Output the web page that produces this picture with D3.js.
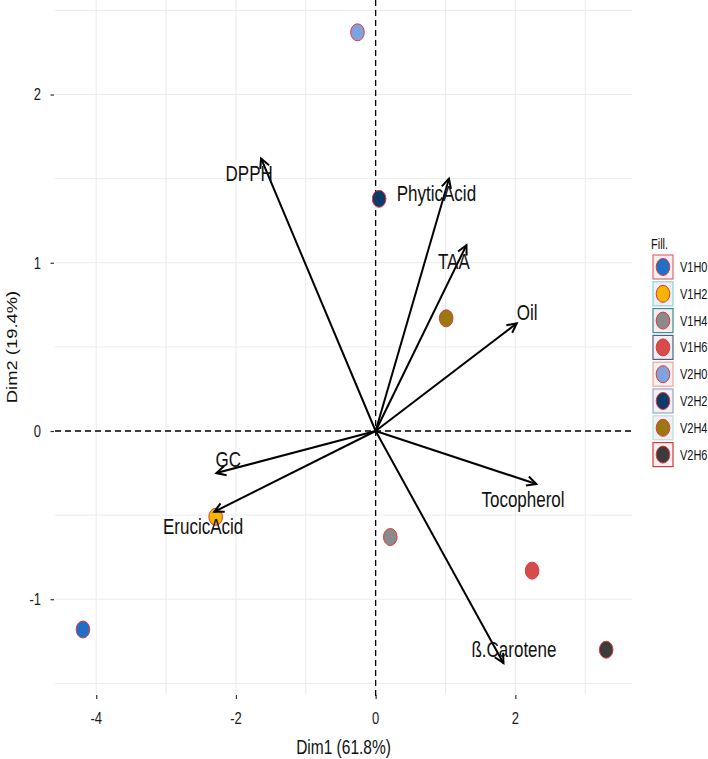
<!DOCTYPE html>
<html><head><meta charset="utf-8">
<script src="https://cdn.jsdelivr.net/npm/d3@7"></script>
<style>body{margin:0;background:#fff}svg{display:block}text{font-family:"Liberation Sans",Arial,sans-serif}</style>
</head><body>
<svg id="c" width="708" height="759"></svg>
<script>
// ---- data ----
const groups = ["V1H0","V1H2","V1H4","V1H6","V2H0","V2H2","V2H4","V2H6"];
const indX = [-4.19,-2.29,0.21,2.24,-0.26,0.05,1.01,3.30];
const indY = [-1.18,-0.51,-0.63,-0.83,2.37,1.38,0.67,-1.30];
const groupFill = ["#1f6fc6","#f4b400","#8a8a8a","#d64b4b","#7ea4e0","#0e3a6a","#9a7a10","#3c3c3c"];
const groupKeyBorder = ["#e06a6a","#86d6d6","#3f8c8c","#4f5f8a","#f0a494","#97a6c8","#b2e2da","#d23a3a"];
const vars = ["DPPH","PhyticAcid","TAA","Oil","Tocopherol","ß.Carotene","GC","ErucicAcid"];
const varX = [-1.64,1.05,1.30,2.02,2.30,1.83,-2.28,-2.31];
const varY = [1.62,1.50,1.105,0.64,-0.315,-1.38,-0.25,-0.48];
const labX = [-1.81,0.87,1.12,2.17,2.11,1.98,-2.11,-2.47];
const labY = [1.53,1.41,1.01,0.705,-0.41,-1.30,-0.17,-0.565];
const xTicks = [-4,-2,0,2];
const yTicks = [-1,0,1,2];
const xGrid = [-4,-3,-2,-1,0,1,2,3];
const yGrid = [-1.5,-1,-0.5,0,0.5,1,1.5,2,2.5];
const xTitle = "Dim1 (61.8%)", yTitle = "Dim2 (19.4%)", legendTitle = "Fill.";

// ---- layout ----
const svg = d3.select("#c");
const L = 55, R = 632, T = 0, B = 694;
const SY = 1.25; // vertical stretch of glyphs in the reference
const x = d3.scaleLinear().domain([-4.59, 3.67]).range([L, R]);
const y = d3.scaleLinear().domain([-1.5633, 2.562]).range([B, T]);
const fmt = d => String(d); // plain hyphen minus

// grid
const g = svg.append("g");
g.selectAll(".gx").data(xGrid).join("line")
  .attr("x1", d => x(d)).attr("x2", d => x(d)).attr("y1", T).attr("y2", B)
  .attr("stroke", "#ebebeb").attr("stroke-width", 1);
g.selectAll(".gy").data(yGrid).join("line")
  .attr("y1", d => y(d)).attr("y2", d => y(d)).attr("x1", L).attr("x2", R)
  .attr("stroke", "#ebebeb").attr("stroke-width", 1);

// axis tick marks via d3 axes
const xa = svg.append("g").attr("transform", `translate(0,${B+1})`)
  .call(d3.axisBottom(x).tickValues(xTicks).tickSize(4).tickFormat(""));
xa.select(".domain").remove();
xa.selectAll("line").attr("stroke", "#333").attr("stroke-width", 1.2);
const ya = svg.append("g").attr("transform", `translate(${L-1},0)`)
  .call(d3.axisLeft(y).tickValues(yTicks).tickSize(3.5).tickFormat(""));
ya.select(".domain").remove();
ya.selectAll("line").attr("stroke", "#333").attr("stroke-width", 1.2);

// tick labels
svg.append("g").selectAll("text").data(xTicks).join("text")
  .attr("transform", d => `translate(${x(d)},723.5) scale(1,${SY})`)
  .attr("text-anchor","middle").attr("font-size",13).attr("fill","#1a1a1a").text(fmt);
svg.append("g").selectAll("text").data(yTicks).join("text")
  .attr("transform", d => `translate(41,${y(d)+5.8}) scale(1,${SY})`)
  .attr("text-anchor","end").attr("font-size",13).attr("fill","#1a1a1a").text(fmt);

// axis titles
svg.append("text").attr("transform", `translate(${(L+R)/2},754) scale(1,${SY})`).attr("text-anchor","middle")
  .attr("font-size", 15.5).attr("fill","#111").text(xTitle);
svg.append("text").attr("transform", `translate(17,${(T+B)/2}) scale(1,${SY*0.95}) rotate(-90)`).attr("text-anchor","middle")
  .attr("font-size", 15.5).attr("fill","#111").text(yTitle);

// dashed zero lines
svg.append("line").attr("x1", L).attr("x2", R).attr("y1", y(0)).attr("y2", y(0))
  .attr("stroke","#000").attr("stroke-width",1.3).attr("stroke-dasharray","6,4");
svg.append("line").attr("x1", x(0)).attr("x2", x(0)).attr("y1", T).attr("y2", B+6)
  .attr("stroke","#000").attr("stroke-width",1.3).attr("stroke-dasharray","6,4");

// individuals
svg.append("g").selectAll("ellipse").data(groups).join("ellipse")
  .attr("cx", (d,i) => x(indX[i])).attr("cy", (d,i) => y(indY[i]))
  .attr("rx", 6.8).attr("ry", 8.5)
  .attr("fill", (d,i) => groupFill[i]).attr("stroke", "#e0383a").attr("stroke-width", 1);

// variable arrows
const ag = svg.append("g");
vars.forEach((v,i) => {
  const x0 = x(0), y0 = y(0), x1 = x(varX[i]), y1 = y(varY[i]);
  ag.append("line").attr("x1",x0).attr("y1",y0).attr("x2",x1).attr("y2",y1)
    .attr("stroke","#000").attr("stroke-width",2);
  const a = Math.atan2(y1-y0, x1-x0), h = 10.5, s = 0.47;
  const p = `M${x1-h*Math.cos(a-s)},${y1-h*Math.sin(a-s)}L${x1},${y1}L${x1-h*Math.cos(a+s)},${y1-h*Math.sin(a+s)}`;
  ag.append("path").attr("d",p).attr("fill","none").attr("stroke","#000").attr("stroke-width",2);
});
svg.append("g").selectAll("text").data(vars).join("text")
  .attr("transform", (d,i) => `translate(${x(labX[i])},${y(labY[i])+7.5}) scale(1,${SY})`)
  .attr("text-anchor","middle").attr("font-size",17).attr("fill","#111").text(d => d);

// legend
const lg = svg.append("g");
lg.append("text").attr("transform", `translate(651,249) scale(1,${SY})`).attr("font-size", 11).attr("fill","#111").text(legendTitle);
const ky = i => 267 + i*26.8;
lg.selectAll("rect").data(groups).join("rect")
  .attr("x", 653).attr("y", (d,i) => ky(i)-12).attr("width", 20).attr("height", 24)
  .attr("fill", "#f4eff3").attr("stroke", (d,i) => groupKeyBorder[i]).attr("stroke-width", 1.2);
lg.selectAll("ellipse").data(groups).join("ellipse")
  .attr("cx", 663).attr("cy", (d,i) => ky(i)).attr("rx", 6.8).attr("ry", 8.5)
  .attr("fill", (d,i) => groupFill[i]).attr("stroke", "#e0383a").attr("stroke-width", 1);
lg.selectAll(".lt").data(groups).join("text")
  .attr("transform", (d,i) => `translate(680,${ky(i)+5}) scale(1,${SY})`)
  .attr("font-size", 11).attr("fill","#111").text(d => d);
</script>
</body></html>
